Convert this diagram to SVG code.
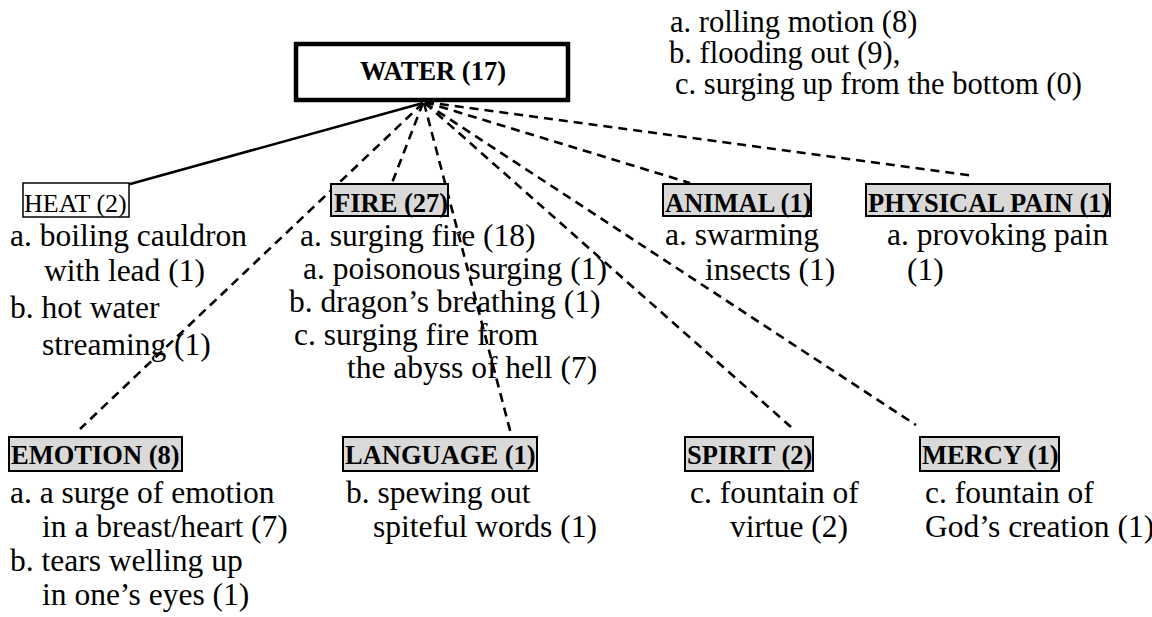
<svg xmlns="http://www.w3.org/2000/svg" width="1152" height="617" viewBox="0 0 1152 617">
  <style>
    .body { font-family: "Liberation Serif", "Times New Roman", serif; font-size: 31.5px; fill: #000; }
    .top { font-family: "Liberation Serif", "Times New Roman", serif; font-size: 30.5px; fill: #000; }
    .lbl { font-family: "Liberation Serif", "Times New Roman", serif; font-size: 26.5px; font-weight: bold; fill: #000; }
    .lbl-plain { font-family: "Liberation Serif", "Times New Roman", serif; font-size: 26px; fill: #000; }
    .box { fill: #d9d9d9; stroke: #000; stroke-width: 2; }
    .box-plain { fill: #fff; stroke: #000; stroke-width: 1.5; }
    .dash { fill: none; stroke: #000; stroke-width: 2.6; stroke-dasharray: 9 6; }
    .solid { fill: none; stroke: #000; stroke-width: 2.6; }
  </style>
  <rect width="1152" height="617" fill="#fff"/>

  <!-- connectors from the central WATER node -->
  <g id="connectors">
    <line class="solid" x1="423" y1="103" x2="123" y2="186"/>
    <line class="dash" x1="423" y1="103" x2="80" y2="429"/>
    <line class="dash" x1="423" y1="103" x2="392" y2="183"/>
    <line class="dash" x1="424" y1="103" x2="511" y2="434"/>
    <line class="dash" x1="425" y1="102" x2="690" y2="183"/>
    <line class="dash" x1="425" y1="102" x2="975" y2="176"/>
    <line class="dash" x1="425" y1="103" x2="791" y2="427"/>
    <line class="dash" x1="425" y1="103" x2="916" y2="425"/>
  </g>

  <!-- central node -->
  <g id="water">
    <rect x="296" y="44" width="272" height="56" fill="#fff" stroke="#000" stroke-width="4.5"/>
    <text class="lbl" x="433" y="80" text-anchor="middle">WATER (17)</text>
  </g>

  <!-- sub-senses of water -->
  <g id="water-senses">
    <text class="top" x="670" y="32">a. rolling motion (8)</text>
    <text class="top" x="669" y="63">b. flooding out (9),</text>
    <text class="top" x="675" y="94">c. surging up from the bottom (0)</text>
  </g>

  <g id="heat">
    <rect class="box-plain" x="23" y="183" width="106" height="34"/>
    <text class="lbl-plain" x="24" y="212">HEAT (2)</text>
    <text class="body" x="10" y="246">a. boiling cauldron</text>
    <text class="body" x="44" y="281">with lead (1)</text>
    <text class="body" x="10" y="318">b. hot water</text>
    <text class="body" x="42" y="355">streaming (1)</text>
  </g>

  <g id="fire">
    <rect class="box" x="331" y="184" width="117" height="32"/>
    <text class="lbl" x="334" y="212">FIRE (27)</text>
    <text class="body" x="300" y="246">a. surging fire (18)</text>
    <text class="body" x="303" y="279">a. poisonous surging (1)</text>
    <text class="body" x="289" y="312">b. dragon’s breathing (1)</text>
    <text class="body" x="294" y="345">c. surging fire from</text>
    <text class="body" x="347" y="378">the abyss of hell (7)</text>
  </g>

  <g id="animal">
    <rect class="box" x="663" y="184" width="148" height="32"/>
    <text class="lbl" x="665" y="212">ANIMAL (1)</text>
    <text class="body" x="665" y="245">a. swarming</text>
    <text class="body" x="705" y="280">insects (1)</text>
  </g>

  <g id="physical-pain">
    <rect class="box" x="866" y="184" width="244" height="32"/>
    <text class="lbl" x="868" y="212">PHYSICAL PAIN (1)</text>
    <text class="body" x="887" y="245">a. provoking pain</text>
    <text class="body" x="907" y="280">(1)</text>
  </g>

  <g id="emotion">
    <rect class="box" x="9" y="437" width="173" height="34"/>
    <text class="lbl" x="11" y="464">EMOTION (8)</text>
    <text class="body" x="10" y="503">a. a surge of emotion</text>
    <text class="body" x="42" y="537">in a breast/heart (7)</text>
    <text class="body" x="10" y="571">b. tears welling up</text>
    <text class="body" x="42" y="605">in one’s eyes (1)</text>
  </g>

  <g id="language">
    <rect class="box" x="343" y="437" width="194" height="34"/>
    <text class="lbl" x="345" y="464">LANGUAGE (1)</text>
    <text class="body" x="346" y="503">b. spewing out</text>
    <text class="body" x="373" y="537">spiteful words (1)</text>
  </g>

  <g id="spirit">
    <rect class="box" x="685" y="437" width="128" height="34"/>
    <text class="lbl" x="687" y="464">SPIRIT (2)</text>
    <text class="body" x="690" y="503">c. fountain of</text>
    <text class="body" x="730" y="537">virtue (2)</text>
  </g>

  <g id="mercy">
    <rect class="box" x="920" y="437" width="139" height="34"/>
    <text class="lbl" x="922" y="464">MERCY (1)</text>
    <text class="body" x="925" y="503">c. fountain of</text>
    <text class="body" x="925" y="537">God’s creation (1)</text>
  </g>
</svg>
